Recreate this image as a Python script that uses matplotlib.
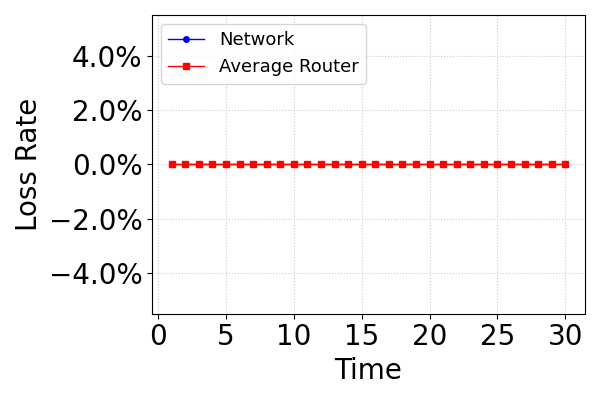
import matplotlib
matplotlib.use('Agg')
import matplotlib.pyplot as plt
from matplotlib.ticker import PercentFormatter, MultipleLocator

# 資料
time = list(range(1, 31))
network_loss = [0.0] * 30
router_loss = [0.0] * 30

fig, ax = plt.subplots(figsize=(6, 4), dpi=100)

ax.plot(time, network_loss, color='blue', marker='o', markersize=4,
        linewidth=1, label='Network')
ax.plot(time, router_loss, color='red', marker='s', markersize=5,
        linewidth=1, label='Average Router')

ax.set_xlabel('Time', fontsize=20)
ax.set_ylabel('Loss Rate', fontsize=20)
ax.set_ylim(-0.055, 0.055)
ax.yaxis.set_major_locator(MultipleLocator(0.02))
ax.xaxis.set_major_locator(MultipleLocator(5))
ax.yaxis.set_major_formatter(PercentFormatter(1.0, decimals=1))
ax.tick_params(axis='both', labelsize=20)
ax.grid(True, linestyle=':', color='#cccccc')
ax.legend(loc='upper left', fontsize=13)

plt.tight_layout()
plt.savefig('out.png', dpi=100)
plt.close()
